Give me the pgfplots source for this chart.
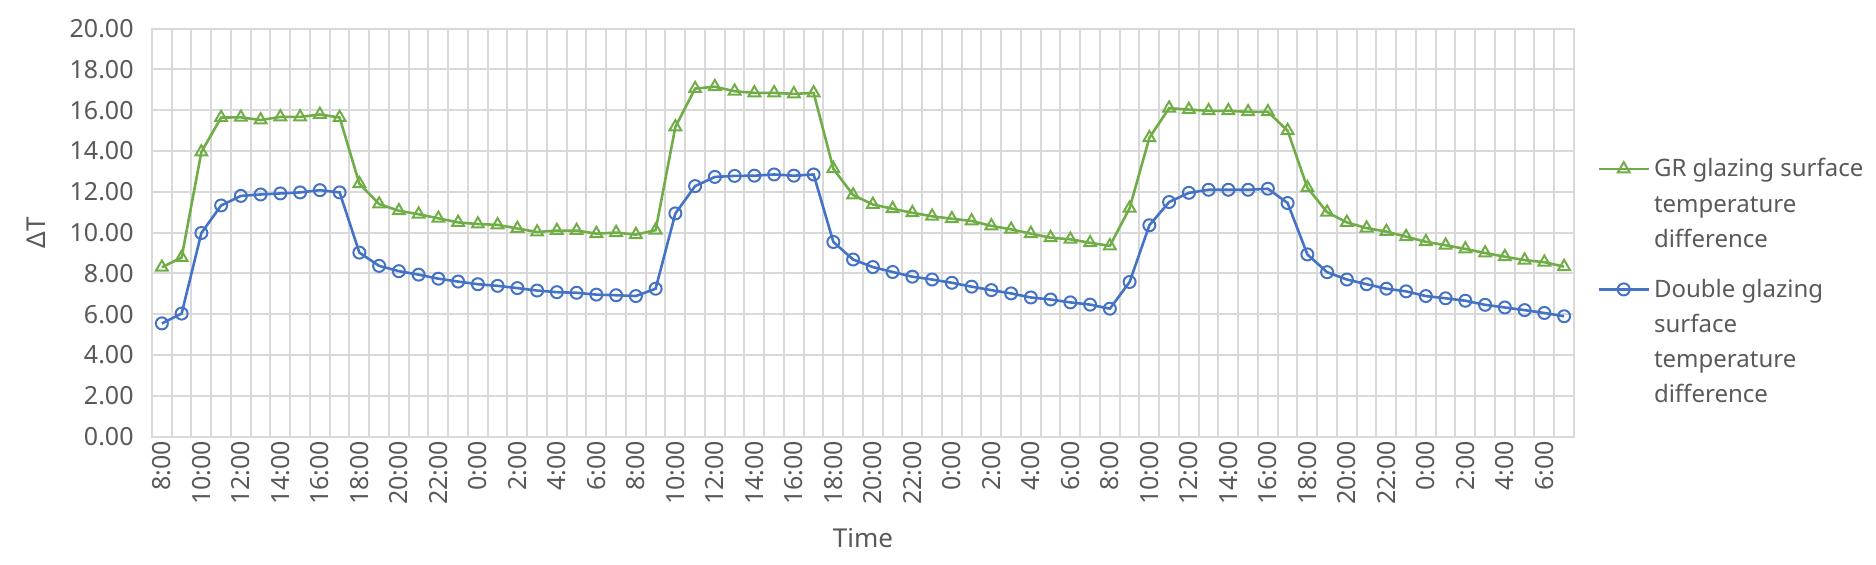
\documentclass[border=0pt]{standalone}
\usepackage{pgfplots}
\usepackage{pgfplotstable}
\pgfplotsset{compat=1.18}
\usepackage{fontspec}
\setmainfont{Noto Sans}
\definecolor{grgreen}{HTML}{70AD47}
\definecolor{dgblue}{HTML}{4472C4}
\definecolor{txtgray}{HTML}{595959}
\definecolor{gridgray}{HTML}{D9D9D9}

\pgfplotstableread{
x gr dg
0 8.30 5.55
1 8.78 6.03
2 13.95 9.98
3 15.64 11.33
4 15.65 11.80
5 15.52 11.87
6 15.67 11.92
7 15.67 11.97
8 15.79 12.08
9 15.64 11.97
10 12.40 9.02
11 11.40 8.37
12 11.07 8.11
13 10.90 7.94
14 10.70 7.74
15 10.50 7.60
16 10.42 7.47
17 10.38 7.39
18 10.20 7.28
19 10.03 7.16
20 10.10 7.08
21 10.10 7.05
22 9.95 6.96
23 10.00 6.93
24 9.90 6.89
25 10.12 7.25
26 15.18 10.94
27 17.06 12.28
28 17.15 12.73
29 16.93 12.78
30 16.85 12.79
31 16.85 12.85
32 16.80 12.79
33 16.85 12.85
34 13.13 9.54
35 11.84 8.68
36 11.38 8.31
37 11.17 8.07
38 10.97 7.84
39 10.80 7.70
40 10.68 7.54
41 10.57 7.35
42 10.33 7.18
43 10.16 7.02
44 9.95 6.82
45 9.75 6.72
46 9.67 6.58
47 9.50 6.47
48 9.35 6.27
49 11.20 7.58
50 14.65 10.36
51 16.10 11.50
52 16.03 11.95
53 15.97 12.10
54 15.97 12.10
55 15.92 12.10
56 15.92 12.15
57 15.00 11.45
58 12.20 8.93
59 11.00 8.06
60 10.50 7.70
61 10.22 7.47
62 10.05 7.25
63 9.80 7.12
64 9.55 6.89
65 9.38 6.78
66 9.20 6.66
67 9.00 6.46
68 8.82 6.33
69 8.65 6.20
70 8.55 6.06
71 8.33 5.90
}\datatable

\begin{document}
\begin{tikzpicture}
\useasboundingbox (-76pt,-63.7pt) rectangle (862pt,218.3pt);
\begin{axis}[
  scale only axis,
  width=711pt, height=204pt,
  xmin=-0.5, xmax=71.5,
  ymin=0, ymax=20,
  ytick={0,2,...,20},
  xtick={0,2,...,70},
  xticklabels={8:00,10:00,12:00,14:00,16:00,18:00,20:00,22:00,0:00,2:00,4:00,6:00,
               8:00,10:00,12:00,14:00,16:00,18:00,20:00,22:00,0:00,2:00,4:00,6:00,
               8:00,10:00,12:00,14:00,16:00,18:00,20:00,22:00,0:00,2:00,4:00,6:00},
  minor xtick={-0.5,0.5,...,71.5},
  xmajorgrids=false,
  xminorgrids=true,
  ymajorgrids=true,
  grid style={gridgray, line width=1pt},
  minor grid style={gridgray, line width=1pt},
  axis line style={gridgray, line width=1pt},
  major tick length=0pt, minor tick length=0pt,
  tick style={draw=none},
  ticklabel style={font=\fontsize{12.5}{14}\selectfont, text=txtgray},
  xticklabel style={rotate=90, anchor=east, inner sep=2pt},
  yticklabel style={inner sep=1pt, xshift=-8pt},
  yticklabel={\pgfmathprintnumber[fixed,fixed zerofill,precision=2,assume math mode=true]{\tick}},
  xlabel={Time},
  ylabel={ΔT},
  label style={font=\fontsize{13}{15}\selectfont, text=txtgray},
  xlabel style={at={(axis description cs:0.5,-0.2485)}, anchor=center},
  ylabel style={at={(axis description cs:-0.0816,0.5)}, anchor=center, rotate=0},
  legend style={draw=none, fill=none, at={(1.012,0.702)}, anchor=north west,
    font=\fontsize{12}{17.6}\selectfont, text=txtgray, row sep=45.6pt,
    cells={anchor=base west}},
  legend image code/.code={\draw[mark repeat=2,mark phase=2] plot coordinates {(0pt,4pt) (12.5pt,4pt) (25pt,4pt)};},
]
\addplot[grgreen, line width=1.3pt, mark=triangle, mark size=3.4pt, mark options={line width=1pt, fill=none, solid}]
  table[x=x, y=gr] {\datatable};
\addlegendentry{\parbox[t]{120pt}{\raggedright GR glazing surface\\temperature\\difference}}
\addplot[dgblue, line width=1.3pt, mark=o, mark size=3pt, mark options={line width=1pt, solid}]
  table[x=x, y=dg] {\datatable};
\addlegendentry{\parbox[t]{120pt}{\raggedright Double glazing\\surface\\temperature\\difference}}
\end{axis}
\end{tikzpicture}
\end{document}
